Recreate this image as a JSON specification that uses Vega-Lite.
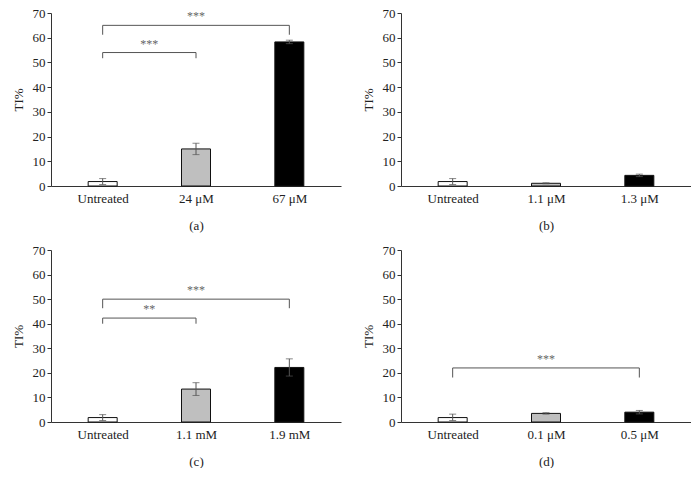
{
  "$schema": "https://vega.github.io/schema/vega-lite/v6.json",
  "padding": {"left": 12, "top": 7, "right": 0, "bottom": 0},
  "background": "white",
  "datasets": {
    "bars": [
      {"panel": "a", "group": "Untreated", "pos": 1, "mean": 1.8, "lo": 0.6, "hi": 3.0},
      {"panel": "a", "group": "24 μM", "pos": 2, "mean": 15.0, "lo": 12.7, "hi": 17.3},
      {"panel": "a", "group": "67 μM", "pos": 3, "mean": 58.3, "lo": 57.6, "hi": 59.0},
      {"panel": "b", "group": "Untreated", "pos": 1, "mean": 1.8, "lo": 0.6, "hi": 3.0},
      {"panel": "b", "group": "1.1 μM", "pos": 2, "mean": 1.1, "lo": 0.9, "hi": 1.3},
      {"panel": "b", "group": "1.3 μM", "pos": 3, "mean": 4.3, "lo": 3.8, "hi": 4.8},
      {"panel": "c", "group": "Untreated", "pos": 1, "mean": 1.8, "lo": 0.6, "hi": 3.0},
      {"panel": "c", "group": "1.1 mM", "pos": 2, "mean": 13.4, "lo": 10.8, "hi": 16.0},
      {"panel": "c", "group": "1.9 mM", "pos": 3, "mean": 22.2, "lo": 18.7, "hi": 25.7},
      {"panel": "d", "group": "Untreated", "pos": 1, "mean": 1.8, "lo": 0.6, "hi": 3.2},
      {"panel": "d", "group": "0.1 μM", "pos": 2, "mean": 3.5, "lo": 3.2, "hi": 3.8},
      {"panel": "d", "group": "0.5 μM", "pos": 3, "mean": 4.0, "lo": 3.3, "hi": 4.7}
    ],
    "brackets": [
      {"panel": "a", "from": 1, "to": 3, "y": 65.0, "yend": 61.2, "label": "***"},
      {"panel": "a", "from": 1, "to": 2, "y": 54.0, "yend": 51.7, "label": "***"},
      {"panel": "c", "from": 1, "to": 3, "y": 50.0, "yend": 46.3, "label": "***"},
      {"panel": "c", "from": 1, "to": 2, "y": 42.3, "yend": 40.0, "label": "**"},
      {"panel": "d", "from": 1, "to": 3, "y": 22.0, "yend": 18.1, "label": "***"}
    ]
  },
  "vconcat": [
    {
      "hconcat": [
        {
          "width": 290, "height": 173,
          "layer": [
            {"data": {"name": "bars"}, "transform": [{"filter": "datum.panel == 'a'"}],
             "mark": {"type": "bar", "orient": "vertical", "size": 29, "stroke": "#111", "strokeWidth": 1},
             "encoding": {
               "x": {"field": "pos", "type": "quantitative", "scale": {"domain": [0.5, 3.5], "nice": false, "zero": false},
                     "axis": {"values": [1, 2, 3], "labelExpr": "datum.value == 1 ? 'Untreated' : datum.value == 2 ? '24 μM' : '67 μM'", "title": "(a)"}},
               "y": {"field": "mean", "type": "quantitative", "scale": {"domain": [0, 70], "nice": false},
                     "axis": {"values": [0, 10, 20, 30, 40, 50, 60, 70], "title": "TI%"}},
               "fill": {"field": "pos", "type": "ordinal", "scale": {"domain": [1, 2, 3], "range": ["#ffffff", "#bfbfbf", "#000000"]}, "legend": null}
             }},
            {"data": {"name": "bars"}, "transform": [{"filter": "datum.panel == 'a'"}],
             "mark": {"type": "rule", "color": "#555", "strokeWidth": 1},
             "encoding": {"x": {"field": "pos", "type": "quantitative"}, "y": {"field": "lo", "type": "quantitative"}, "y2": {"field": "hi"}}},
            {"data": {"name": "bars"}, "transform": [{"filter": "datum.panel == 'a'"}],
             "mark": {"type": "tick", "orient": "horizontal", "size": 7, "thickness": 1, "color": "#555"},
             "encoding": {"x": {"field": "pos", "type": "quantitative"}, "y": {"field": "lo", "type": "quantitative"}}},
            {"data": {"name": "bars"}, "transform": [{"filter": "datum.panel == 'a'"}],
             "mark": {"type": "tick", "orient": "horizontal", "size": 7, "thickness": 1, "color": "#555"},
             "encoding": {"x": {"field": "pos", "type": "quantitative"}, "y": {"field": "hi", "type": "quantitative"}}},
            {"data": {"name": "brackets"}, "transform": [{"filter": "datum.panel == 'a'"}],
             "mark": {"type": "rule", "color": "#555", "strokeWidth": 1},
             "encoding": {"x": {"field": "from", "type": "quantitative"}, "x2": {"field": "to"}, "y": {"field": "y", "type": "quantitative"}}},
            {"data": {"name": "brackets"}, "transform": [{"filter": "datum.panel == 'a'"}],
             "mark": {"type": "rule", "color": "#555", "strokeWidth": 1},
             "encoding": {"x": {"field": "from", "type": "quantitative"}, "y": {"field": "y", "type": "quantitative"}, "y2": {"field": "yend"}}},
            {"data": {"name": "brackets"}, "transform": [{"filter": "datum.panel == 'a'"}],
             "mark": {"type": "rule", "color": "#555", "strokeWidth": 1},
             "encoding": {"x": {"field": "to", "type": "quantitative"}, "y": {"field": "y", "type": "quantitative"}, "y2": {"field": "yend"}}},
            {"data": {"name": "brackets"}, "transform": [{"filter": "datum.panel == 'a'"}, {"calculate": "(datum.from + datum.to) / 2", "as": "mid"}],
             "mark": {"type": "text", "dy": -9, "baseline": "middle", "align": "center", "font": "Liberation Serif", "fontSize": 12, "fill": "#666", "color": "#666"},
             "encoding": {"x": {"field": "mid", "type": "quantitative"}, "y": {"field": "y", "type": "quantitative"}, "text": {"field": "label"}}}
          ]
        },
        {
          "width": 290, "height": 173,
          "layer": [
            {"data": {"name": "bars"}, "transform": [{"filter": "datum.panel == 'b'"}],
             "mark": {"type": "bar", "orient": "vertical", "size": 29, "stroke": "#111", "strokeWidth": 1},
             "encoding": {
               "x": {"field": "pos", "type": "quantitative", "scale": {"domain": [0.5, 3.5], "nice": false, "zero": false},
                     "axis": {"values": [1, 2, 3], "labelExpr": "datum.value == 1 ? 'Untreated' : datum.value == 2 ? '1.1 μM' : '1.3 μM'", "title": "(b)"}},
               "y": {"field": "mean", "type": "quantitative", "scale": {"domain": [0, 70], "nice": false},
                     "axis": {"values": [0, 10, 20, 30, 40, 50, 60, 70], "title": "TI%"}},
               "fill": {"field": "pos", "type": "ordinal", "scale": {"domain": [1, 2, 3], "range": ["#ffffff", "#bfbfbf", "#000000"]}, "legend": null}
             }},
            {"data": {"name": "bars"}, "transform": [{"filter": "datum.panel == 'b'"}],
             "mark": {"type": "rule", "color": "#555", "strokeWidth": 1},
             "encoding": {"x": {"field": "pos", "type": "quantitative"}, "y": {"field": "lo", "type": "quantitative"}, "y2": {"field": "hi"}}},
            {"data": {"name": "bars"}, "transform": [{"filter": "datum.panel == 'b'"}],
             "mark": {"type": "tick", "orient": "horizontal", "size": 7, "thickness": 1, "color": "#555"},
             "encoding": {"x": {"field": "pos", "type": "quantitative"}, "y": {"field": "lo", "type": "quantitative"}}},
            {"data": {"name": "bars"}, "transform": [{"filter": "datum.panel == 'b'"}],
             "mark": {"type": "tick", "orient": "horizontal", "size": 7, "thickness": 1, "color": "#555"},
             "encoding": {"x": {"field": "pos", "type": "quantitative"}, "y": {"field": "hi", "type": "quantitative"}}}
          ]
        }
      ],
      "spacing": 21
    },
    {
      "hconcat": [
        {
          "width": 290, "height": 172,
          "layer": [
            {"data": {"name": "bars"}, "transform": [{"filter": "datum.panel == 'c'"}],
             "mark": {"type": "bar", "orient": "vertical", "size": 29, "stroke": "#111", "strokeWidth": 1},
             "encoding": {
               "x": {"field": "pos", "type": "quantitative", "scale": {"domain": [0.5, 3.5], "nice": false, "zero": false},
                     "axis": {"values": [1, 2, 3], "labelExpr": "datum.value == 1 ? 'Untreated' : datum.value == 2 ? '1.1 mM' : '1.9 mM'", "title": "(c)"}},
               "y": {"field": "mean", "type": "quantitative", "scale": {"domain": [0, 70], "nice": false},
                     "axis": {"values": [0, 10, 20, 30, 40, 50, 60, 70], "title": "TI%"}},
               "fill": {"field": "pos", "type": "ordinal", "scale": {"domain": [1, 2, 3], "range": ["#ffffff", "#bfbfbf", "#000000"]}, "legend": null}
             }},
            {"data": {"name": "bars"}, "transform": [{"filter": "datum.panel == 'c'"}],
             "mark": {"type": "rule", "color": "#555", "strokeWidth": 1},
             "encoding": {"x": {"field": "pos", "type": "quantitative"}, "y": {"field": "lo", "type": "quantitative"}, "y2": {"field": "hi"}}},
            {"data": {"name": "bars"}, "transform": [{"filter": "datum.panel == 'c'"}],
             "mark": {"type": "tick", "orient": "horizontal", "size": 7, "thickness": 1, "color": "#555"},
             "encoding": {"x": {"field": "pos", "type": "quantitative"}, "y": {"field": "lo", "type": "quantitative"}}},
            {"data": {"name": "bars"}, "transform": [{"filter": "datum.panel == 'c'"}],
             "mark": {"type": "tick", "orient": "horizontal", "size": 7, "thickness": 1, "color": "#555"},
             "encoding": {"x": {"field": "pos", "type": "quantitative"}, "y": {"field": "hi", "type": "quantitative"}}},
            {"data": {"name": "brackets"}, "transform": [{"filter": "datum.panel == 'c'"}],
             "mark": {"type": "rule", "color": "#555", "strokeWidth": 1},
             "encoding": {"x": {"field": "from", "type": "quantitative"}, "x2": {"field": "to"}, "y": {"field": "y", "type": "quantitative"}}},
            {"data": {"name": "brackets"}, "transform": [{"filter": "datum.panel == 'c'"}],
             "mark": {"type": "rule", "color": "#555", "strokeWidth": 1},
             "encoding": {"x": {"field": "from", "type": "quantitative"}, "y": {"field": "y", "type": "quantitative"}, "y2": {"field": "yend"}}},
            {"data": {"name": "brackets"}, "transform": [{"filter": "datum.panel == 'c'"}],
             "mark": {"type": "rule", "color": "#555", "strokeWidth": 1},
             "encoding": {"x": {"field": "to", "type": "quantitative"}, "y": {"field": "y", "type": "quantitative"}, "y2": {"field": "yend"}}},
            {"data": {"name": "brackets"}, "transform": [{"filter": "datum.panel == 'c'"}, {"calculate": "(datum.from + datum.to) / 2", "as": "mid"}],
             "mark": {"type": "text", "dy": -9, "baseline": "middle", "align": "center", "font": "Liberation Serif", "fontSize": 12, "fill": "#666", "color": "#666"},
             "encoding": {"x": {"field": "mid", "type": "quantitative"}, "y": {"field": "y", "type": "quantitative"}, "text": {"field": "label"}}}
          ]
        },
        {
          "width": 290, "height": 172,
          "layer": [
            {"data": {"name": "bars"}, "transform": [{"filter": "datum.panel == 'd'"}],
             "mark": {"type": "bar", "orient": "vertical", "size": 29, "stroke": "#111", "strokeWidth": 1},
             "encoding": {
               "x": {"field": "pos", "type": "quantitative", "scale": {"domain": [0.5, 3.5], "nice": false, "zero": false},
                     "axis": {"values": [1, 2, 3], "labelExpr": "datum.value == 1 ? 'Untreated' : datum.value == 2 ? '0.1 μM' : '0.5 μM'", "title": "(d)"}},
               "y": {"field": "mean", "type": "quantitative", "scale": {"domain": [0, 70], "nice": false},
                     "axis": {"values": [0, 10, 20, 30, 40, 50, 60, 70], "title": "TI%"}},
               "fill": {"field": "pos", "type": "ordinal", "scale": {"domain": [1, 2, 3], "range": ["#ffffff", "#bfbfbf", "#000000"]}, "legend": null}
             }},
            {"data": {"name": "bars"}, "transform": [{"filter": "datum.panel == 'd'"}],
             "mark": {"type": "rule", "color": "#555", "strokeWidth": 1},
             "encoding": {"x": {"field": "pos", "type": "quantitative"}, "y": {"field": "lo", "type": "quantitative"}, "y2": {"field": "hi"}}},
            {"data": {"name": "bars"}, "transform": [{"filter": "datum.panel == 'd'"}],
             "mark": {"type": "tick", "orient": "horizontal", "size": 7, "thickness": 1, "color": "#555"},
             "encoding": {"x": {"field": "pos", "type": "quantitative"}, "y": {"field": "lo", "type": "quantitative"}}},
            {"data": {"name": "bars"}, "transform": [{"filter": "datum.panel == 'd'"}],
             "mark": {"type": "tick", "orient": "horizontal", "size": 7, "thickness": 1, "color": "#555"},
             "encoding": {"x": {"field": "pos", "type": "quantitative"}, "y": {"field": "hi", "type": "quantitative"}}},
            {"data": {"name": "brackets"}, "transform": [{"filter": "datum.panel == 'd'"}],
             "mark": {"type": "rule", "color": "#555", "strokeWidth": 1},
             "encoding": {"x": {"field": "from", "type": "quantitative"}, "x2": {"field": "to"}, "y": {"field": "y", "type": "quantitative"}}},
            {"data": {"name": "brackets"}, "transform": [{"filter": "datum.panel == 'd'"}],
             "mark": {"type": "rule", "color": "#555", "strokeWidth": 1},
             "encoding": {"x": {"field": "from", "type": "quantitative"}, "y": {"field": "y", "type": "quantitative"}, "y2": {"field": "yend"}}},
            {"data": {"name": "brackets"}, "transform": [{"filter": "datum.panel == 'd'"}],
             "mark": {"type": "rule", "color": "#555", "strokeWidth": 1},
             "encoding": {"x": {"field": "to", "type": "quantitative"}, "y": {"field": "y", "type": "quantitative"}, "y2": {"field": "yend"}}},
            {"data": {"name": "brackets"}, "transform": [{"filter": "datum.panel == 'd'"}, {"calculate": "(datum.from + datum.to) / 2", "as": "mid"}],
             "mark": {"type": "text", "dy": -9, "baseline": "middle", "align": "center", "font": "Liberation Serif", "fontSize": 12, "fill": "#666", "color": "#666"},
             "encoding": {"x": {"field": "mid", "type": "quantitative"}, "y": {"field": "y", "type": "quantitative"}, "text": {"field": "label"}}}
          ]
        }
      ],
      "spacing": 21
    }
  ],
  "spacing": 12,
  "config": {
    "view": {"stroke": null},
    "axis": {
      "grid": false,
      "domainColor": "#333",
      "tickColor": "#333",
      "labelFont": "Liberation Serif",
      "labelFontSize": 13,
      "labelColor": "#222",
      "titleFont": "Liberation Serif",
      "titleFontSize": 13,
      "titleFontWeight": "normal",
      "titleColor": "#222"
    },
    "axisY": {"tickSize": 4, "labelPadding": 2, "titlePadding": 7, "tickCount": 8, "labelOverlap": false, "labelFlush": false},
    "axisX": {"ticks": false, "labelPadding": 6, "titlePadding": 14, "labelFlush": false, "labelOverlap": false}
  }
}
